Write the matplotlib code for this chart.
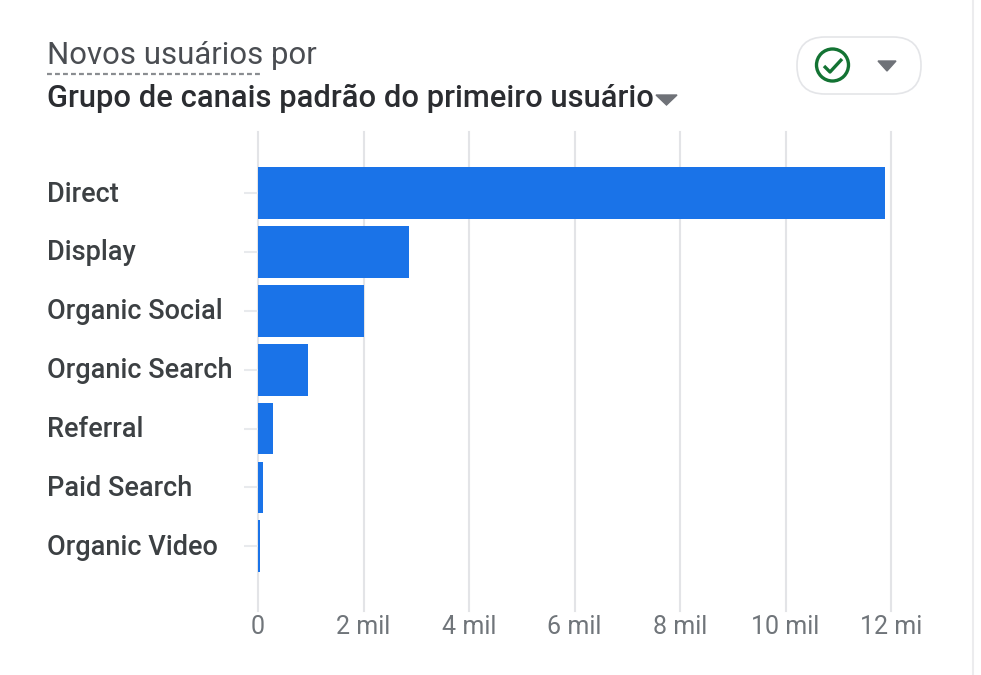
import matplotlib
matplotlib.use('Agg')
import matplotlib.pyplot as plt
from matplotlib.patches import FancyBboxPatch, Circle, Polygon
from matplotlib.transforms import ScaledTranslation

categories = ['Direct', 'Display', 'Organic Social', 'Organic Search', 'Referral', 'Paid Search', 'Organic Video']
new_users = [11890, 2860, 2005, 950, 285, 90, 30]
tick_values = [0, 2000, 4000, 6000, 8000, 10000, 12000]
tick_labels = ['0', '2 mil', '4 mil', '6 mil', '8 mil', '10 mil', '12 mi']

W, H = 981, 675
fig = plt.figure(figsize=(W / 100, H / 100), dpi=100, facecolor='white')

# camada em pixels para titulo e icones
bg = fig.add_axes([0, 0, 1, 1])
bg.set_xlim(0, W)
bg.set_ylim(H, 0)
bg.axis('off')

# grafico: x=0 em 258px, 12 mil em 891px, topo 132px, base 611px
ax = fig.add_axes([258 / W, 1 - 611 / H, (891 - 258) / W, (611 - 132) / H])
ax.patch.set_alpha(0)
ax.barh(categories, new_users, height=0.88, color='#1a73e8', zorder=3)
ax.set_xlim(0, 12000)
ax.set_ylim(7.1, -1.04)
ax.set_xticks(tick_values, tick_labels)
ax.grid(axis='x', color='#e3e4e7', linewidth=1.5, zorder=0)
ax.set_axisbelow(True)
for s in ax.spines.values():
    s.set_visible(False)
for g in ax.get_xgridlines():
    g.set_clip_on(False)
ax.tick_params(axis='x', length=0, pad=3, labelsize=18, labelcolor='#70757a')
ax.tick_params(axis='y', length=10, width=1.5, color='#e8eaed', pad=142, labelsize=19.5, labelcolor='#3c4043')
up = ScaledTranslation(0, 1.5 / 72, fig.dpi_scale_trans)
for t in ax.get_yticklabels():
    t.set_ha('left')
    t.set_fontfamily('Roboto')
    t.set_fontweight('medium')
    t.set_transform(t.get_transform() + up)
for t in ax.get_xticklabels():
    t.set_fontfamily('Roboto')

# titulo
bg.text(47, 56, 'Novos usuários por', fontsize=22.4, family='Roboto', color='#4a4d52', va='center')
bg.plot([47, 261], [74, 74], color='#8a8d91', linewidth=1.6, linestyle=(0, (2.2, 1.4)))
bg.text(47, 98, 'Grupo de canais padrão do primeiro usuário', fontsize=22.2, family='Roboto',
        fontweight='medium', color='#2b2d31', va='center')
bg.add_patch(Polygon([[656, 95], [677, 95], [666.5, 105]], color='#6f7278'))

# botao com o icone de verificado
bg.add_patch(FancyBboxPatch((797, 37), 124, 57, boxstyle='round,pad=0,rounding_size=28',
                            facecolor='white', edgecolor='#e4e5e8', linewidth=1.2))
bg.add_patch(Circle((832.5, 65), 16, facecolor='none', edgecolor='#137333', linewidth=2.4))
bg.plot([824, 830, 842], [66, 72, 59], color='#137333', linewidth=2.4, solid_capstyle='butt')
bg.add_patch(Polygon([[878, 61], [896, 61], [887, 71]], color='#6f7278'))

# borda do cartao a direita
bg.plot([973, 973], [0, H], color='#ececee', linewidth=1.5)

fig.savefig('out.png', dpi=100)
